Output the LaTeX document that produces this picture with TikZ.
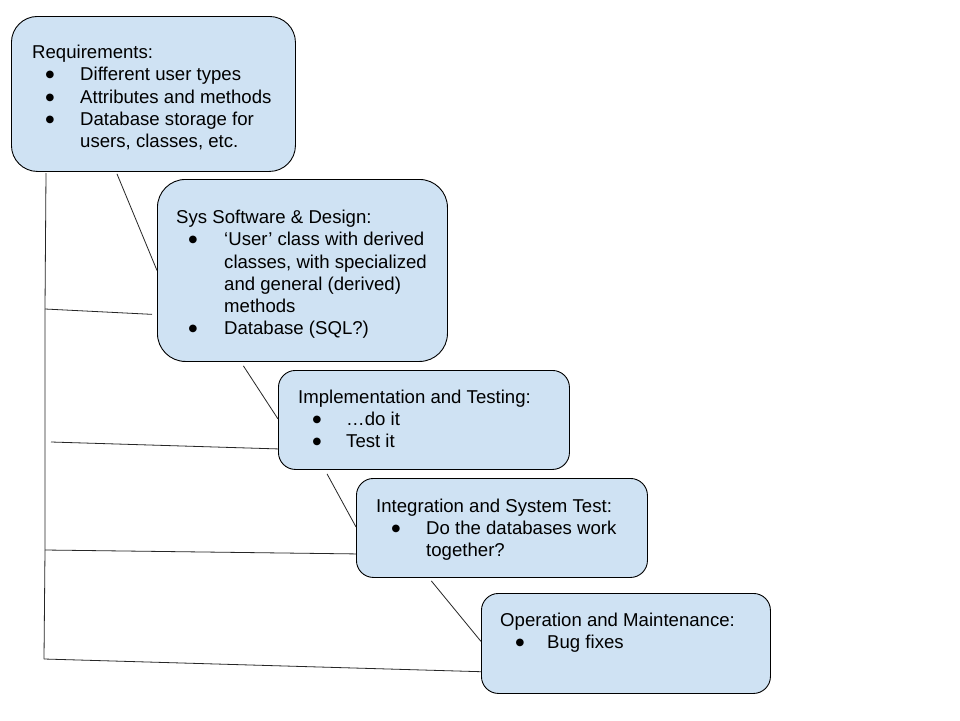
\documentclass[tikz,border=0pt]{standalone}
\usepackage{fontspec}
\setmainfont{Liberation Sans}
\newfontfamily\bulfont{DejaVu Sans}
\usetikzlibrary{calc}
\definecolor{boxblue}{HTML}{CFE2F3}
\begin{document}
\begin{tikzpicture}[x=1pt,y=-1pt,
  stage/.style={draw=black, line width=0.9pt, fill=boxblue, rounded corners=#1, inner sep=0pt, anchor=north west},
  txt/.style={anchor=base west, inner sep=0pt, font=\fontsize{18.6}{22}\selectfont},
  bul/.style={anchor=center, inner sep=0pt, font=\bulfont\fontsize{10}{12}\selectfont},
  link/.style={draw=black!85, line width=0.8pt}]
\useasboundingbox[fill=white] (0,0) rectangle (960,720);

% boxes
\node[stage=26pt, minimum width=284pt, minimum height=155pt] (b1) at (11,16) {};
\node[stage=28pt, minimum width=290pt, minimum height=182pt] (b2) at (157,179) {};
\node[stage=17pt, minimum width=291pt, minimum height=99pt] (b3) at (278,370) {};
\node[stage=17pt, minimum width=291pt, minimum height=99pt] (b4) at (356,478) {};
\node[stage=17pt, minimum width=289pt, minimum height=100pt] (b5) at (481,593) {};

% box 1 text
\node[txt] (t11) at (32,58) {Requirements:};
\node[bul] (p11) at (50,75) {●};
\node[txt] (t12) at (80,80) {Different user types};
\node[bul] (p12) at (50,98) {●};
\node[txt] (t13) at (80,103) {Attributes and methods};
\node[bul] (p13) at (50,120) {●};
\node[txt] (t14) at (80,125) {Database storage for};
\node[txt] (t15) at (80,147) {users, classes, etc.};

% box 2 text
\node[txt] (t21) at (176,223) {Sys Software \& Design:};
\node[bul] (p21) at (193,240) {●};
\node[txt] (t22) at (224,245) {‘User’ class with derived};
\node[txt] (t23) at (224,268) {classes, with specialized};
\node[txt] (t24) at (224,290) {and general (derived)};
\node[txt] (t25) at (224,312) {methods};
\node[bul] (p22) at (193,329) {●};
\node[txt] (t26) at (224,334) {Database (SQL?)};

% box 3 text
\node[txt] (t31) at (298,403) {Implementation and Testing:};
\node[bul] (p31) at (317,420) {●};
\node[txt] (t32) at (346,425) {…do it};
\node[bul] (p32) at (317,442) {●};
\node[txt] (t33) at (346,447) {Test it};

% box 4 text
\node[txt] (t41) at (376,512) {Integration and System Test:};
\node[bul] (p41) at (396,529) {●};
\node[txt] (t42) at (426,534) {Do the databases work};
\node[txt] (t43) at (426,556) {together?};

% box 5 text
\node[txt] (t51) at (500,626) {Operation and Maintenance:};
\node[bul] (p51) at (520,643) {●};
\node[txt] (t52) at (547,648) {Bug fixes};

% diagonal connectors
\draw[link] ($(b1.south west)!0.372!(b1.south east)+(0,2)$) -- (b2.west);
\draw[link] ($(b2.south west)!0.297!(b2.south east)+(0,4)$) -- ($(b3.north west)!0.49!(b3.south west)$);
\draw[link] ($(b3.south west)!0.168!(b3.south east)+(0,4)$) -- ($(b4.north west)!0.49!(b4.south west)$);
\draw[link] ($(b4.south west)!0.258!(b4.south east)+(0,3)$) -- ($(b5.north west)!0.48!(b5.south west)$);

% spine and branches
\coordinate (top) at (46,173);
\coordinate (j1) at (45,309);
\coordinate (j3) at (45,550);
\coordinate (bot) at (44,659);
\coordinate (f2) at (51,442);
\draw[link] (top) -- (j1) -- (j3) -- (bot);
\draw[link] (j1) -- ($(b2.north west)!0.74!(b2.south west)+(-5,0)$);
\draw[link] (f2) -- ($(b3.north west)!0.79!(b3.south west)$);
\draw[link] (j3) -- ($(b4.north west)!0.76!(b4.south west)$);
\draw[link] (bot) -- ($(b5.north west)!0.78!(b5.south west)$);
\end{tikzpicture}
\end{document}
